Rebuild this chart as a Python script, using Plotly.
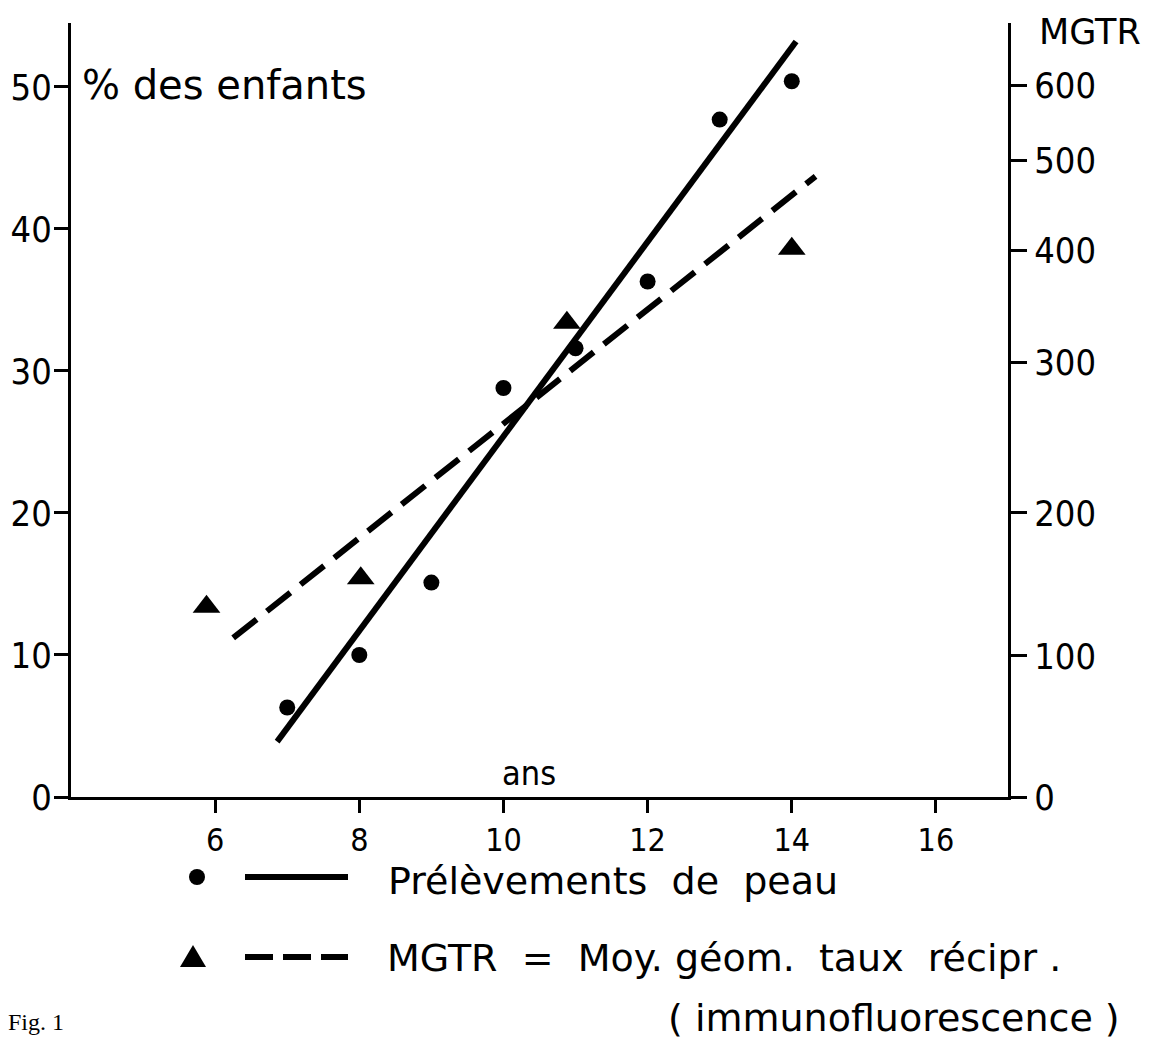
import plotly.graph_objects as go

# ---- data ----
age_skin = [7, 8, 9, 10, 11, 12, 13, 14]
pct_skin = [6.3, 10.0, 15.1, 28.8, 31.6, 36.3, 47.7, 50.4]

age_mgtr = [5.88, 8.02, 10.88, 14.0]
mgtr_pos = [13.4, 15.4, 33.4, 38.6]          # plotted on the MGTR (right) axis

fit_skin_x = [6.86, 14.06]
fit_skin_y = [3.9, 53.2]
fit_mgtr_x = [6.25, 14.33]
fit_mgtr_y = [11.2, 43.7]

x_ticks = [6, 8, 10, 12, 14, 16]
left_ticks = [0, 10, 20, 30, 40, 50]
right_tick_labels = ["0", "100", "200", "300", "400", "500", "600"]
right_tick_pos = [0, 9.93, 20.0, 30.6, 38.5, 44.8, 50.1]

# ---- layout constants (pixels, page has an 8px body margin) ----
OFF = 8
W, H = 1150 - OFF, 1048 - OFF
ML, MT = 71 - OFF, 23 - OFF
PW, PH = 937, 774
MR, MB = W - ML - PW, H - MT - PH
FONT = "DejaVu Sans Condensed, DejaVu Sans, sans-serif"
TFONT = "DejaVu Sans, sans-serif"


def px(x):
    return (x - OFF - ML) / PW


def py(y):
    return (MT + PH - (y - OFF)) / PH


fig = go.Figure()

fig.add_trace(go.Scatter(x=fit_skin_x, y=fit_skin_y, mode="lines",
                         line=dict(color="black", width=6), showlegend=False))
fig.add_trace(go.Scatter(x=fit_mgtr_x, y=fit_mgtr_y, mode="lines", yaxis="y2",
                         line=dict(color="black", width=6, dash="30px,13px"),
                         showlegend=False))
fig.add_trace(go.Scatter(x=age_skin, y=pct_skin, mode="markers",
                         marker=dict(symbol="circle", size=16, color="black"),
                         showlegend=False))
fig.add_trace(go.Scatter(x=age_mgtr, y=mgtr_pos, mode="markers", yaxis="y2",
                         marker=dict(symbol="triangle-up", size=24, color="black"),
                         showlegend=False))

YR = [0, 54.5]
axis_common = dict(showline=True, linecolor="black", linewidth=3, ticks="outside",
                   tickcolor="black", tickwidth=3, showgrid=False, zeroline=False,
                   automargin=False)

fig.update_layout(
    width=W, height=H,
    margin=dict(l=ML, r=MR, t=MT, b=MB, autoexpand=False),
    paper_bgcolor="white", plot_bgcolor="white",
    xaxis=dict(range=[4, 17], tickvals=x_ticks, ticklen=13,
               tickfont=dict(family=FONT, size=32, color="black"), **axis_common),
    yaxis=dict(range=YR, tickvals=left_ticks, ticklen=14, ticklabelstandoff=-5,
               tickfont=dict(family=FONT, size=36, color="black"), **axis_common),
    yaxis2=dict(range=YR, overlaying="y", side="right", tickvals=right_tick_pos,
                ticktext=right_tick_labels, ticklen=16,
                tickfont=dict(family=FONT, size=36, color="black"), **axis_common),
)

ann_font = dict(family=TFONT, size=38, color="black")
fig.add_annotation(x=px(80), y=py(85), xref="paper", yref="paper", xanchor="left",
                   yanchor="middle", text="% des enfants", showarrow=False,
                   font=dict(family=TFONT, size=40, color="black"))
fig.add_annotation(x=px(1090), y=py(32), xref="paper", yref="paper", xanchor="center",
                   yanchor="middle", text="MGTR", showarrow=False,
                   font=dict(family=TFONT, size=35, color="black"))
fig.add_annotation(x=10.35, y=py(773), xref="x", yref="paper", xanchor="center",
                   yanchor="middle", text="ans", showarrow=False,
                   font=dict(family=FONT, size=34, color="black"))

# ---- hand-drawn style legend below the plot ----
fig.add_shape(type="circle", xref="paper", yref="paper", xsizemode="pixel",
              ysizemode="pixel", xanchor=px(197), yanchor=py(877),
              x0=-8, x1=8, y0=-8, y1=8, fillcolor="black", line=dict(width=0))
fig.add_shape(type="line", xref="paper", yref="paper", x0=px(245), x1=px(348),
              y0=py(877), y1=py(877), line=dict(color="black", width=6))
fig.add_shape(type="path", xref="paper", yref="paper", xsizemode="pixel",
              ysizemode="pixel", xanchor=px(193), yanchor=py(957),
              path="M -13 -10 L 13 -10 L 0 12 Z", fillcolor="black", line=dict(width=0))
fig.add_shape(type="line", xref="paper", yref="paper", x0=px(245), x1=px(348),
              y0=py(957), y1=py(957), line=dict(color="black", width=6, dash="28px,10px"))

fig.add_annotation(x=px(386), y=py(881), xref="paper", yref="paper", xanchor="left",
                   yanchor="middle", text="Prélèvements  de  peau", showarrow=False,
                   font=ann_font)
fig.add_annotation(x=px(385), y=py(958), xref="paper", yref="paper", xanchor="left",
                   yanchor="middle", text="MGTR  =  Moy. géom.  taux  récipr .",
                   showarrow=False, font=ann_font)
fig.add_annotation(x=px(1122), y=py(1018), xref="paper", yref="paper", xanchor="right",
                   yanchor="middle", text="( immunofluorescence )", showarrow=False,
                   font=ann_font)
fig.add_annotation(x=px(6), y=py(1022), xref="paper", yref="paper", xanchor="left",
                   yanchor="middle", text="Fig. 1", showarrow=False,
                   font=dict(family="Liberation Serif, serif", size=24, color="black"))

fig.write_html("out.html")
